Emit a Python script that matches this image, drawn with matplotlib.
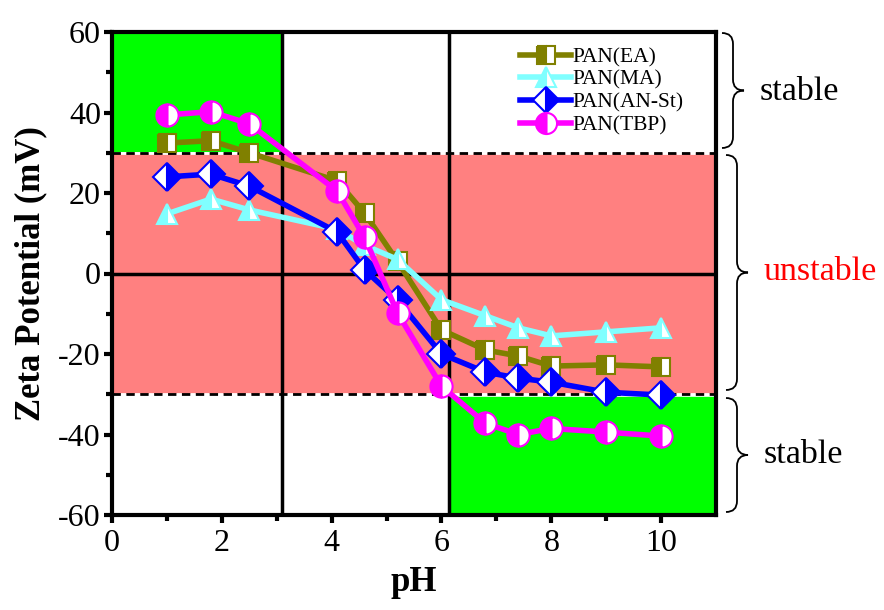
import matplotlib.pyplot as plt
from matplotlib.path import Path
from matplotlib.patches import PathPatch, Rectangle

# data
ph = [1, 1.8, 2.5, 4.1, 4.6, 5.2, 6, 6.8, 7.4, 8, 9, 10]
pan_ea = [32.4, 33, 30, 23, 15, 3, -14, -19, -20.5, -23, -22.7, -23.2]
pan_ma = [14.8, 18.5, 15.8, 11, 7, 3.5, -6.5, -10.5, -13.5, -15.5, -14.5, -13.5]
pan_anst = [24, 24.7, 21.7, 10.3, 0.9, -6.6, -20, -24.5, -26, -27, -29.5, -30.2]
pan_tbp = [39.4, 40.2, 37.2, 20.5, 9, -9.8, -28, -37.2, -40, -38.5, -39.4, -40.4]

labels = ['PAN(EA)', 'PAN(MA)', 'PAN(AN-St)', 'PAN(TBP)']
colors = ['#808000', '#80FFFF', '#0000FF', '#FF00FF']
markers = ['s', '^', 'D', 'o']
fills = ['left', 'left', 'right', 'left']
msizes = [13, 15, 14, 16]

plt.rcParams['font.family'] = ['Liberation Serif', 'DejaVu Serif']
plt.rcParams['axes.unicode_minus'] = False

fig = plt.figure(figsize=(8.84, 6.10), dpi=100)
W, H = 884, 610
ax = fig.add_axes([112 / W, 1 - 515 / H, (716 - 112) / W, (515 - 32) / H])

ax.set_xlim(0, 11)
ax.set_ylim(-60, 60)

# shaded stability zones
ax.add_patch(Rectangle((0, 30.5), 3.1, 29.5, color='#00FF00', zorder=0))
ax.add_patch(Rectangle((6.13, -60), 11 - 6.13, 29.2, color='#00FF00', zorder=0))
ax.add_patch(Rectangle((0, -29.6), 11, 59.6, color='#FF8080', zorder=0))

ax.axvline(3.1, color='black', lw=2.5, zorder=1)
ax.axvline(6.13, color='black', lw=2.5, zorder=1)
ax.axhline(0, color='black', lw=2.5, zorder=1)
for yy in (30, -30):
    ax.axhline(yy, color='black', lw=2, ls=(0, (3, 2)), gapcolor='white', zorder=1)

series = [pan_ea, pan_ma, pan_anst, pan_tbp]
for vals, lab, c, m, fs, ms in zip(series, labels, colors, markers, fills, msizes):
    ax.plot(ph, vals, color=c, lw=4, marker=m, ms=ms, fillstyle=fs,
            markerfacecolor=c, markerfacecoloralt='white', markeredgecolor=c,
            markeredgewidth=1.5, label=lab, zorder=3)

leg = ax.legend(loc='upper left', bbox_to_anchor=(0.65, 1.0), frameon=False,
                fontsize=15.5, handlelength=2.4, handletextpad=0.05,
                labelspacing=0.12, borderaxespad=0.3)
for h in leg.legend_handles:
    h.set_markersize(h.get_markersize() * 0.95)

ax.set_xticks([0, 2, 4, 6, 8, 10])
ax.set_xticks([1, 3, 5, 7, 9], minor=True)
ax.set_yticks(range(-60, 61, 20))
ax.set_yticks(range(-50, 60, 20), minor=True)
ax.tick_params(which='major', direction='out', length=6, width=3, labelsize=23, pad=2)
ax.tick_params(axis='x', which='major', pad=4)
ax.tick_params(which='minor', direction='out', length=4, width=3)
for s in ax.spines.values():
    s.set_linewidth(3)

ax.set_xlabel('pH', fontsize=25, fontweight='bold', labelpad=6)
ax.set_ylabel('Zeta Potential (mV)', fontsize=25, fontweight='bold', labelpad=8)


def brace(x0, ytop, ybot, w):
    # right-facing curly brace in figure pixels (y from top)
    y1 = H - ytop
    y0 = H - ybot
    ym = (y0 + y1) / 2
    r = w / 2
    verts = [(x0, y1), (x0 + r, y1), (x0 + r, y1 - r),
             (x0 + r, ym + r), (x0 + r, ym), (x0 + w, ym),
             (x0 + r, ym), (x0 + r, ym - r),
             (x0 + r, y0 + r), (x0 + r, y0), (x0, y0)]
    codes = [Path.MOVETO, Path.CURVE3, Path.CURVE3,
             Path.LINETO, Path.CURVE3, Path.CURVE3,
             Path.CURVE3, Path.CURVE3,
             Path.LINETO, Path.CURVE3, Path.CURVE3]
    verts = [(vx / W, vy / H) for vx, vy in verts]
    fig.patches.append(PathPatch(Path(verts, codes), transform=fig.transFigure,
                                 fill=False, lw=1.3, color='black'))


brace(722, 33, 148, 22)
brace(726, 155, 390, 22)
brace(726, 398, 512, 22)

fig.text(760 / W, 1 - 92 / H, 'stable', fontsize=24.5, va='center')
fig.text(763 / W, 1 - 272 / H, 'unstable', fontsize=24.5, va='center', color='red')
fig.text(764 / W, 1 - 455 / H, 'stable', fontsize=24.5, va='center')

fig.savefig('out.png', dpi=100)
